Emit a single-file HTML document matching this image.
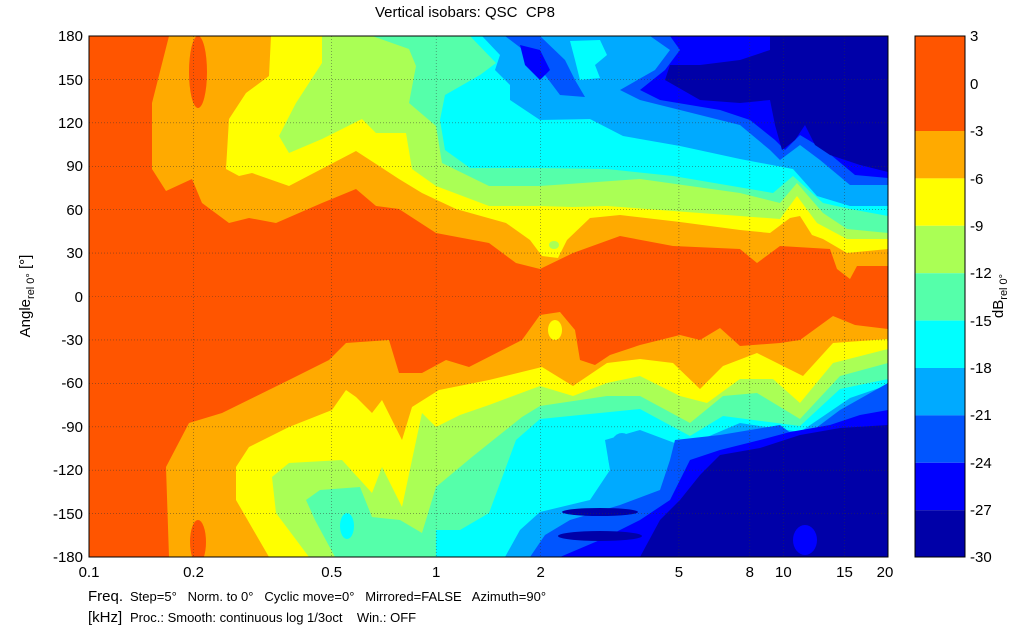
<!DOCTYPE html>
<html><head><meta charset="utf-8"><style>
body{margin:0;background:#fff;}
svg{display:block;font-family:"Liberation Sans",sans-serif;}
</style></head><body>
<svg width="1024" height="631" viewBox="0 0 1024 631">
<rect width="1024" height="631" fill="#fff"/>
<clipPath id="c"><rect x="89" y="36" width="799" height="521"/></clipPath>
<g clip-path="url(#c)" stroke-linejoin="round">
<rect x="89" y="36" width="799" height="521" fill="#FF5500"/>
<polygon fill="#FFAA00" points="169,36 152,103 152,169 166,191 192,179 202,203 229,223 249,218 276,223 322,203 356,189 376,206 399,209 436,233 489,243 516,263 540,269 573,253 620,236 673,246 740,249 757,263 780,246 830,249 837,269 850,279 857,266 888,266 888,36"/>
<polygon fill="#FFFF00" points="271,36 269,76 246,93 229,119 226,169 239,176 252,173 289,186 356,151 399,179 422,193 456,209 506,223 530,240 542,256 558,258 567,240 590,218 620,215 680,222 740,230 770,233 790,218 800,216 812,235 823,239 847,253 888,249 888,36"/>
<polygon fill="#AAFF55" points="322,36 322,63 296,103 279,136 289,153 322,139 362,119 376,133 406,133 412,169 436,186 489,206 540,206 573,207 607,206 740,216 780,219 797,196 817,223 847,239 888,239 888,36"/>
<polygon fill="#55FFAA" points="372,36 409,49 416,66 409,103 436,126 442,163 489,186 540,186 640,179 740,193 780,203 797,183 823,213 847,229 888,233 888,36"/>
<polygon fill="#00FFFF" points="432,36 470,36 496,63 480,75 445,95 440,120 445,150 470,168 540,168 607,169 673,176 773,193 793,176 823,203 850,209 888,216 888,36"/>
<polygon fill="#00AAFF" points="482,36 500,55 495,70 510,85 510,100 540,120 590,119 623,136 680,146 740,159 777,166 793,169 817,196 850,206 888,206 888,36"/>
<polygon fill="#00FFFF" points="570,41 600,40 607,55 595,65 600,78 580,80 575,60"/>
<polygon fill="#0055FF" points="505,36 530,55 545,75 560,95 585,97 575,80 565,60 540,36"/>
<polygon fill="#0000FF" points="520,45 540,50 550,70 540,80 525,65"/>
<polygon fill="#0055FF" points="650,36 670,50 655,70 620,90 640,100 700,115 740,125 770,150 780,160 800,145 820,160 850,185 888,185 888,36"/>
<polygon fill="#0000FF" points="670,36 680,50 665,70 640,90 660,100 720,110 750,120 775,140 785,150 800,135 825,150 855,175 888,178 888,36"/>
<polygon fill="#0000A8" points="770,36 888,36 888,172 860,165 830,155 815,145 805,125 795,140 782,150 775,125 770,100 740,103 700,100 665,80 670,65 700,65 740,60 770,50"/>
<polygon fill="#FFAA00" points="169,557 166,467 189,423 222,413 289,380 329,360 346,343 389,340 399,373 422,373 446,360 469,367 522,340 540,315 560,312 575,330 580,360 595,365 610,355 640,345 680,335 700,340 720,328 740,346 780,343 800,340 833,316 855,325 888,329 888,557"/>
<polygon fill="#FFFF00" points="269,557 236,500 236,467 249,447 289,427 332,410 346,390 356,397 372,413 382,400 402,440 412,407 439,390 489,380 542,367 573,386 607,363 640,359 673,363 700,389 723,366 757,353 803,376 833,343 888,339 888,557"/>
<polygon fill="#AAFF55" points="309,557 276,513 272,477 289,463 342,460 372,493 382,467 402,507 422,413 436,427 460,415 489,405 540,386 573,396 607,383 640,376 680,396 707,403 740,379 773,379 800,403 833,363 888,349 888,557"/>
<polygon fill="#55FFAA" points="335,557 315,520 306,500 320,490 360,487 372,517 400,520 422,533 436,487 472,457 522,417 540,406 607,396 640,396 690,423 723,396 757,393 800,419 840,376 888,363 888,557"/>
<polygon fill="#00FFFF" points="436,557 436,530 460,530 489,513 516,440 540,419 640,409 690,436 723,416 800,426 840,389 888,379 888,557"/>
<ellipse cx="347" cy="526" rx="7" ry="13" fill="#00FFFF"/>
<polygon fill="#00AAFF" points="505,557 520,530 540,512 590,500 610,470 605,440 640,430 680,445 700,440 740,423 800,432 850,398 888,385 888,557"/>
<ellipse cx="622" cy="455" rx="14" ry="22" fill="#00AAFF"/>
<polygon fill="#0055FF" points="530,557 545,535 570,520 620,505 660,490 670,460 675,440 720,435 780,425 800,440 840,410 888,383 888,557"/>
<polygon fill="#0000FF" points="560,557 600,540 640,520 670,500 690,460 720,450 760,440 790,432 830,425 860,415 888,410 888,557"/>
<polygon fill="#0000A8" points="640,557 660,520 680,500 700,475 720,455 760,448 800,435 840,428 888,425 888,557"/>
<ellipse cx="600" cy="512" rx="38" ry="4" fill="#0000A8"/>
<ellipse cx="600" cy="536" rx="42" ry="5" fill="#0000A8"/>
<ellipse cx="805" cy="540" rx="12" ry="15" fill="#0000FF"/>
<ellipse cx="198" cy="72" rx="9" ry="36" fill="#FF5500"/>
<ellipse cx="198" cy="542" rx="8" ry="22" fill="#FF5500"/>
<ellipse cx="555" cy="330" rx="7" ry="10" fill="#FFFF00"/>
<ellipse cx="554" cy="245" rx="5" ry="4" fill="#AAFF55"/>
<g stroke="#333" stroke-width="0.6" stroke-dasharray="1,2" opacity="0.7">
<line x1="193.5" y1="36" x2="193.5" y2="557"/><line x1="331.7" y1="36" x2="331.7" y2="557"/><line x1="436.2" y1="36" x2="436.2" y2="557"/><line x1="540.7" y1="36" x2="540.7" y2="557"/><line x1="678.9" y1="36" x2="678.9" y2="557"/><line x1="749.8" y1="36" x2="749.8" y2="557"/><line x1="783.4" y1="36" x2="783.4" y2="557"/><line x1="844.5" y1="36" x2="844.5" y2="557"/>
<line x1="89" y1="79.4" x2="888" y2="79.4"/><line x1="89" y1="122.8" x2="888" y2="122.8"/><line x1="89" y1="166.3" x2="888" y2="166.3"/><line x1="89" y1="209.7" x2="888" y2="209.7"/><line x1="89" y1="253.1" x2="888" y2="253.1"/><line x1="89" y1="296.5" x2="888" y2="296.5"/><line x1="89" y1="339.9" x2="888" y2="339.9"/><line x1="89" y1="383.3" x2="888" y2="383.3"/><line x1="89" y1="426.8" x2="888" y2="426.8"/><line x1="89" y1="470.2" x2="888" y2="470.2"/><line x1="89" y1="513.6" x2="888" y2="513.6"/>
</g>
</g>
<rect x="89" y="36" width="799" height="521" fill="none" stroke="#000" stroke-width="1"/>
<text x="465" y="17" font-size="15" text-anchor="middle" xml:space="preserve">Vertical isobars: QSC  CP8</text>
<g font-size="15" text-anchor="end">
<text x="83" y="41">180</text><text x="83" y="85">150</text><text x="83" y="128">120</text><text x="83" y="171">90</text><text x="83" y="215">60</text><text x="83" y="258">30</text><text x="83" y="302">0</text><text x="83" y="345">-30</text><text x="83" y="388">-60</text><text x="83" y="432">-90</text><text x="83" y="475">-120</text><text x="83" y="519">-150</text><text x="83" y="562">-180</text>
</g>
<g font-size="15" text-anchor="middle">
<text x="89" y="577">0.1</text><text x="193.5" y="577">0.2</text><text x="331.7" y="577">0.5</text><text x="436.2" y="577">1</text><text x="540.7" y="577">2</text><text x="678.9" y="577">5</text><text x="749.8" y="577">8</text><text x="783.4" y="577">10</text><text x="844.5" y="577">15</text><text x="885" y="577">20</text>
</g>
<text transform="translate(30,296) rotate(-90)" font-size="15" text-anchor="middle">Angle<tspan font-size="11" dy="4">rel 0°</tspan><tspan dy="-4"> [°]</tspan></text>
<text x="88" y="601" font-size="15">Freq.</text>
<text x="88" y="622" font-size="15">[kHz]</text>
<text x="130" y="601" font-size="13" xml:space="preserve">Step=5°   Norm. to 0°   Cyclic move=0°   Mirrored=FALSE   Azimuth=90°</text>
<text x="130" y="622" font-size="13" xml:space="preserve">Proc.: Smooth: continuous log 1/3oct    Win.: OFF</text>
<g>
<rect x="915" y="36" width="50" height="95" fill="#FF5500"/>
<rect x="915" y="131" width="50" height="47.4" fill="#FFAA00"/>
<rect x="915" y="178.4" width="50" height="47.4" fill="#FFFF00"/>
<rect x="915" y="225.8" width="50" height="47.4" fill="#AAFF55"/>
<rect x="915" y="273.2" width="50" height="47.4" fill="#55FFAA"/>
<rect x="915" y="320.6" width="50" height="47.4" fill="#00FFFF"/>
<rect x="915" y="368" width="50" height="47.4" fill="#00AAFF"/>
<rect x="915" y="415.4" width="50" height="47.4" fill="#0055FF"/>
<rect x="915" y="462.8" width="50" height="47.4" fill="#0000FF"/>
<rect x="915" y="510.2" width="50" height="46.8" fill="#0000A8"/>
<rect x="915" y="36" width="50" height="521" fill="none" stroke="#000"/>
</g>
<g font-size="15">
<text x="970" y="41">3</text><text x="970" y="89">0</text><text x="970" y="136">-3</text><text x="970" y="184">-6</text><text x="970" y="231">-9</text><text x="970" y="278">-12</text><text x="970" y="326">-15</text><text x="970" y="373">-18</text><text x="970" y="420">-21</text><text x="970" y="468">-24</text><text x="970" y="515">-27</text><text x="970" y="562">-30</text>
</g>
<text transform="translate(1003,296) rotate(-90)" font-size="15" text-anchor="middle">dB<tspan font-size="11" dy="4">rel 0°</tspan></text>
</svg>
</body></html>
